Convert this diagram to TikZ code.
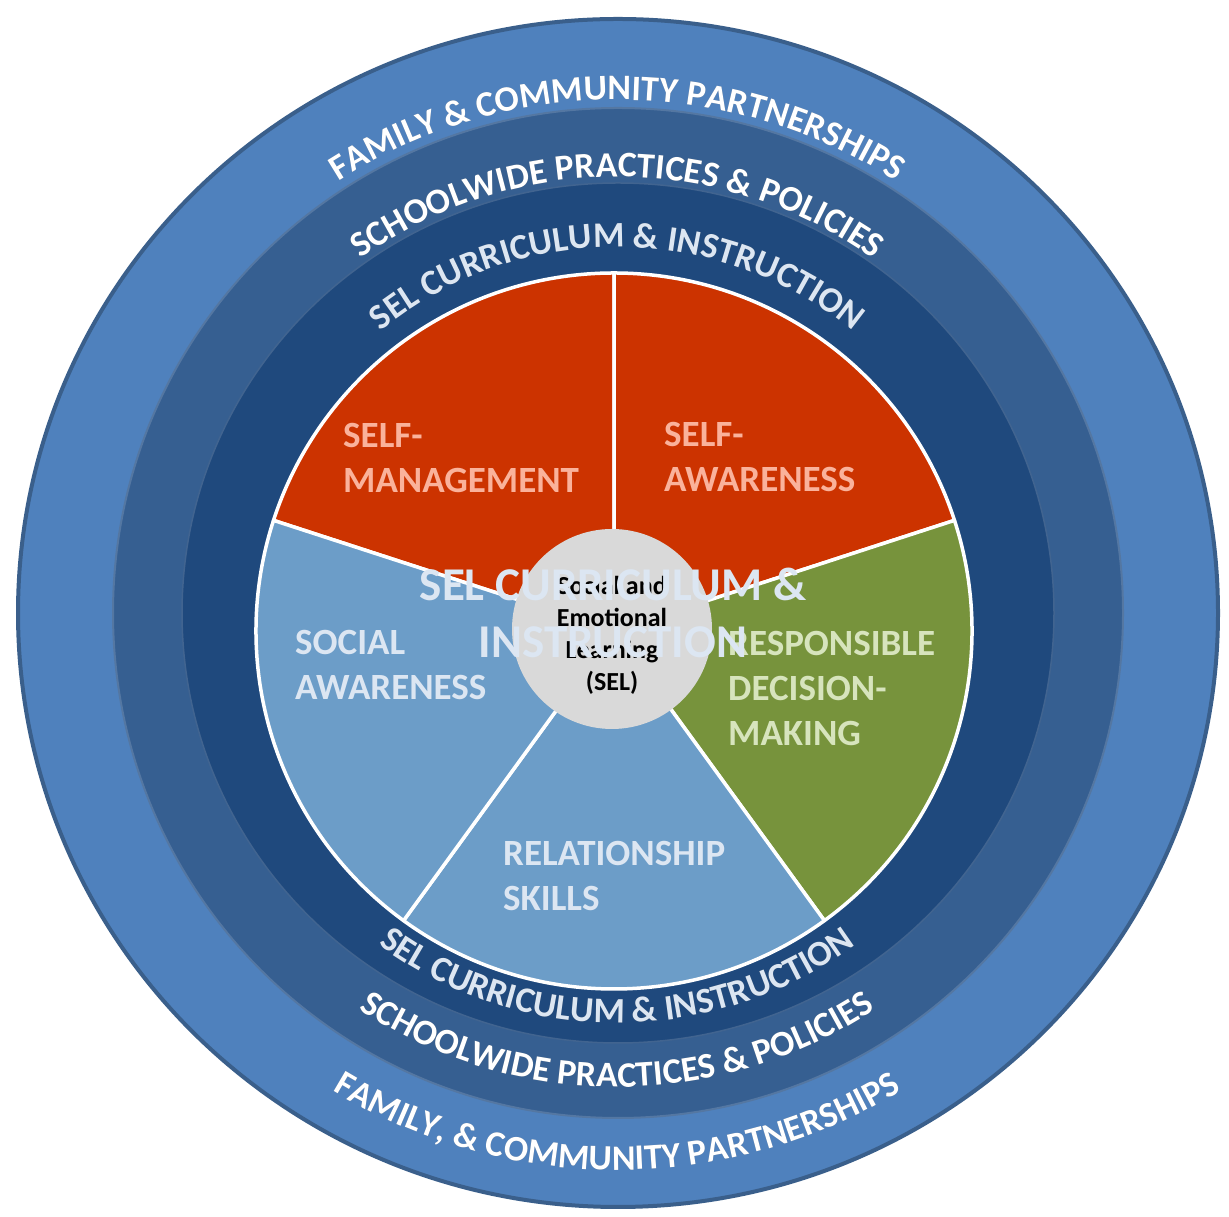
\documentclass[tikz,border=0pt]{standalone}
\usepackage{fontspec}
\setmainfont{Carlito}
\usetikzlibrary{decorations.text}
\definecolor{outerblue}{HTML}{4F81BD}
\definecolor{outeredge}{HTML}{3A5F8B}
\definecolor{midblue}{HTML}{365F91}
\definecolor{darkblue}{HTML}{1F497D}
\definecolor{selfred}{HTML}{CC3300}
\definecolor{decgreen}{HTML}{77933C}
\definecolor{skyblue}{HTML}{6C9DC8}
\definecolor{redtxt}{HTML}{FAB29B}
\definecolor{greentxt}{HTML}{D7E4BD}
\definecolor{bluetxt}{HTML}{DCE6F2}
\definecolor{hubgray}{HTML}{D9D9D9}
\tikzstyle{slice}=[draw=white,line width=3.5pt,line join=round]
\tikzstyle{skill}=[font=\fontsize{37}{45}\selectfont\bfseries,align=left,anchor=west,inner sep=0pt]
\newcommand{\ringfont}{\fontsize{36}{44}\selectfont\bfseries}
% text on the upper and lower half of a ring: radius, colour, text
\newcommand{\ringtop}[3]{%
  \begin{scope}[shift={(1.5pt,-1.5pt)},opacity=.35]
  \path[decorate,decoration={text along path,text align=center,text={|\ringfont\color{black}|#3}}]
    (tc) ++(180:#1) arc[start angle=180,end angle=0,radius=#1];
  \end{scope}
  \path[decorate,decoration={text along path,text align=center,text={|\ringfont\color{#2}|#3}}]
    (tc) ++(180:#1) arc[start angle=180,end angle=0,radius=#1];}
\newcommand{\ringbot}[3]{%
  \begin{scope}[shift={(1.5pt,-1.5pt)},opacity=.35]
  \path[decorate,decoration={text along path,text align=center,text={|\ringfont\color{black}|#3}}]
    (tc) ++(180:#1) arc[start angle=180,end angle=360,radius=#1];
  \end{scope}
  \path[decorate,decoration={text along path,text align=center,text={|\ringfont\color{#2}|#3}}]
    (tc) ++(180:#1) arc[start angle=180,end angle=360,radius=#1];}

\begin{document}
\begin{tikzpicture}[x=1pt,y=1pt]
    \useasboundingbox (0,0) rectangle (1229,1217);
    \coordinate (rc) at (618,604);
    \coordinate (tc) at (617,597);
    \coordinate (pc) at (614,586);
    % First the three rings
    \filldraw[fill=outerblue,draw=outeredge,line width=4pt] (rc) ellipse [x radius=600pt,y radius=594pt];
    \filldraw[fill=midblue,draw=midblue!85!white,line width=2pt] (rc) ellipse [x radius=505pt,y radius=505pt];
    \filldraw[fill=darkblue,draw=darkblue!85!white,line width=1.5pt] (rc) ellipse [x radius=436pt,y radius=430pt];
    % Then the five slices of the pie
    \foreach \a/\b/\col in {90/162/selfred, 18/90/selfred, -54/18/decgreen, -126/-54/skyblue, 162/234/skyblue}
        \path[slice,fill=\col] (pc) -- ++(\a:358pt) arc[start angle=\a,end angle=\b,radius=358pt] -- cycle;
    \node[circle,fill=hubgray,minimum size=200pt,inner sep=0pt] (hub) at (612,588) {};
    % Labels of the slices
    \node[skill,text=redtxt] (selfman) at (343,759) {SELF-\\MANAGEMENT};
    \node[skill,text=redtxt] (selfaw) at (664,760) {SELF-\\AWARENESS};
    \node[skill,text=bluetxt] (socaw) at (295,552) {SOCIAL\\AWARENESS};
    \node[skill,text=bluetxt] (relsk) at (503,341) {RELATIONSHIP\\SKILLS};
    \node[skill,text=greentxt] (respdec) at (728,528) {RESPONSIBLE\\DECISION-\\MAKING};
    \node[font=\fontsize{26}{32}\selectfont\bfseries,align=center,inner sep=0pt] (sel) at (612,582)
        {Social and\\Emotional\\Learning\\(SEL)};
    \node[font=\fontsize{47}{57}\selectfont\bfseries,align=center,inner sep=0pt,text=bluetxt] (overlay) at (613,604)
        {SEL CURRICULUM {\&}\\INSTRUCTION};
    % Texts round the rings
    \ringtop{520pt}{white}{FAMILY {\&} COMMUNITY PARTNERSHIPS}
    \ringtop{443pt}{white}{SCHOOLWIDE PRACTICES {\&} POLICIES}
    \ringtop{373pt}{bluetxt}{SEL CURRICULUM {\&} INSTRUCTION}
    \ringbot{403pt}{bluetxt}{SEL CURRICULUM {\&} INSTRUCTION}
    \ringbot{467pt}{white}{SCHOOLWIDE PRACTICES {\&} POLICIES}
    \ringbot{550pt}{white}{FAMILY, {\&} COMMUNITY PARTNERSHIPS}
\end{tikzpicture}
\end{document}
